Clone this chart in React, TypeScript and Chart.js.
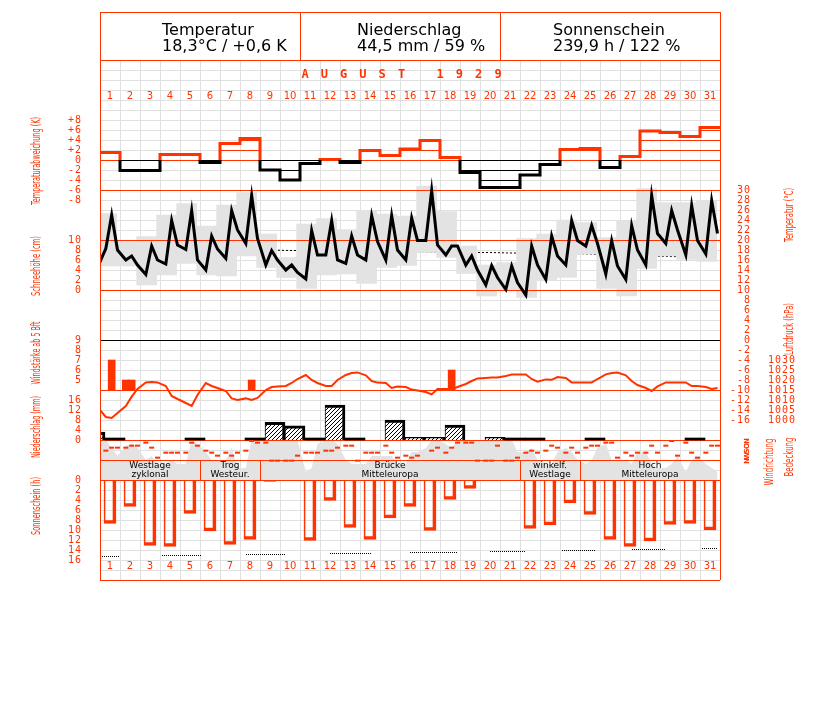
import React, { useEffect, useRef } from 'react';
import { Chart, registerables } from 'chart.js';

Chart.register(...registerables);

// ---------------- data ----------------
const DAYS = [1, 2, 3, 4, 5, 6, 7, 8, 9, 10, 11, 12, 13, 14, 15, 16, 17, 18, 19, 20, 21, 22, 23, 24, 25, 26, 27, 28, 29, 30, 31];
const OBS_HOURS = [7, 14, 21];

const SUMMARY_TITLES = ['Temperatur', 'Niederschlag', 'Sonnenschein'];
const SUMMARY_VALUES = ['18,3°C / +0,6 K', '44,5 mm / 59 %', '239,9 h / 122 %'];
const MONTH_TITLE = 'AUGUST 1929';

// daily temperature anomaly (K)
const TEMP_ANOMALY = [1.5, -2.1, -2.1, 1.1, 1.1, -0.5, 3.3, 4.3, -2.0, -4.0, -0.7, 0.1, -0.5, 1.9, 0.9, 2.2, 3.9, 0.5, -2.5, -5.5, -5.5, -3.0, -0.9, 2.1, 2.3, -1.5, 0.7, 5.8, 5.5, 4.7, 6.5];

// temperature readings (°C) at 7h, 14h, 21h
const TEMP_PREV_21H = 14.5;
const TEMP_7H = [18.3, 16.0, 13.1, 15.2, 18.1, 14.0, 16.3, 19.3, 15.0, 14.0, 12.2, 17.0, 15.3, 16.0, 16.0, 16.0, 19.9, 17.0, 15.0, 11.0, 10.1, 9.0, 12.1, 15.0, 18.8, 13.2, 12.1, 15.0, 19.3, 17.0, 17.2];
const TEMP_14H = [25.0, 16.8, 18.8, 23.9, 25.9, 20.8, 25.9, 28.9, 17.9, 15.0, 21.9, 23.9, 20.8, 24.9, 24.9, 24.4, 29.9, 18.8, 16.8, 14.9, 14.8, 18.8, 20.8, 23.9, 22.9, 19.9, 22.9, 28.9, 25.9, 26.9, 27.9];
const TEMP_21H = [18.0, 15.0, 16.0, 19.0, 16.0, 18.2, 22.0, 20.3, 16.0, 13.5, 17.0, 16.0, 17.0, 19.7, 18.0, 19.9, 19.0, 18.8, 14.0, 12.5, 11.5, 15.0, 16.8, 19.9, 19.3, 14.8, 18.0, 21.3, 22.0, 19.9, 21.3];
// daily extremes (°C)
const TEMP_MAX = [25.3, 19.7, 20.7, 25.0, 27.3, 22.8, 27.0, 29.5, 21.2, 16.5, 23.2, 24.3, 22.1, 25.9, 25.2, 24.8, 30.8, 25.7, 18.8, 15.0, 15.5, 20.3, 21.2, 24.0, 23.5, 20.5, 23.9, 30.3, 27.5, 27.5, 27.9];
const TEMP_MIN = [14.8, 14.8, 11.0, 13.0, 15.3, 13.0, 12.8, 16.8, 14.5, 12.5, 10.3, 13.0, 13.2, 11.3, 14.5, 14.9, 17.5, 16.5, 13.3, 8.8, 10.0, 8.5, 12.0, 12.5, 17.2, 10.3, 8.8, 14.3, 16.8, 16.1, 15.7];
// long-term mean temperature (°C)
const TEMP_NORMAL = [18.2, 18.2, 18.2, 18.1, 18.1, 18.1, 18.0, 18.0, 18.0, 17.9, 17.9, 17.9, 17.8, 17.8, 17.8, 17.7, 17.6, 17.5, 17.5, 17.5, 17.4, 17.4, 17.4, 17.3, 17.2, 17.0, 16.9, 16.8, 16.7, 16.6, 16.5];

// wind force >= 5 Bft
const WIND_DAY = [1, 2, 2, 8, 18];
const WIND_HOUR = [14, 7, 14, 14, 14];
const WIND_BFT = [7, 5, 5, 5, 6];

// air pressure (hPa)
const PRESS_PREV_21H = 1006.5;
const PRESS_7H = [1001.5, 1007, 1018.8, 1017, 1008.5, 1018.5, 1014.5, 1010.8, 1015, 1017, 1022.5, 1017, 1022.5, 1022.3, 1018.5, 1016.5, 1014, 1015.5, 1018, 1021, 1022, 1022.8, 1020.3, 1021, 1018.8, 1022.8, 1022.3, 1016, 1018.8, 1018.8, 1016.5];
const PRESS_14H = [1001, 1011.7, 1019, 1012, 1007, 1017, 1010.8, 1010, 1016.5, 1018.5, 1020, 1017, 1023.5, 1019.5, 1016, 1015.2, 1012.8, 1015.5, 1019.5, 1021.2, 1022.7, 1020.5, 1020.1, 1018.8, 1018.8, 1023.5, 1019.5, 1014.5, 1018.8, 1017, 1015.5];
const PRESS_21H = [1003.5, 1015.5, 1018.8, 1010.5, 1012.5, 1016, 1010, 1011, 1016.8, 1020.5, 1018.5, 1020, 1023.8, 1018.7, 1016.7, 1014.8, 1015.5, 1016.5, 1020.8, 1021.2, 1022.8, 1019.2, 1021.5, 1018.8, 1020.5, 1023.7, 1017.5, 1016.8, 1018.8, 1017, 1016];

// precipitation (mm), measuring day 7h -> 7h
const PRECIP_DAY = [0, 9, 10, 12, 15, 16, 17, 18, 20];
const PRECIP_MM = [3.2, 7.1, 5.7, 14.0, 8.0, 1.1, 1.1, 6.0, 1.1];
const TRACE_DAY = [1, 5, 8, 11, 13, 21, 22, 25, 30];
const TRACE_MM = [0.1, 0.1, 0.1, 0.1, 0.1, 0.1, 0.1, 0.1, 0.1];

// wind direction (degrees) at 7h, 14h, 21h
const WDIR_7H = [174, 120, 30, 210, 210, 174, 210, 174, 30, 354, 210, 174, 84, 210, 84, 264, null, 210, 30, 354, 354, 210, 174, 210, 120, 30, 210, 210, 84, 30, 210];
const WDIR_14H = [120, 84, 120, 210, 30, 210, 264, 0, 354, 354, 210, 174, 84, 210, 210, 300, 174, 120, 30, 354, 354, 174, 84, 120, 84, 30, 264, 84, 0, 210, 84];
const WDIR_21H = [120, 84, 300, 210, 84, 264, 210, 30, 354, 264, 210, 120, 354, 210, 300, 264, 120, 30, 354, 84, 300, 210, 120, 210, 84, 300, 210, 210, 264, 300, 84];

// cloud cover (tenths) at 7h, 14h, 21h
const CLOUD_PREV_21H = 10;
const CLOUD_7H = [10, 8.5, 5, 4, 4, 7, 5, 3, 10, 10, 2, 10, 5, 4, 6, 4, 8, 9, 10, 10, 10, 7, 4, 8, 4, 9, 5, 7, 3, 2, 4];
const CLOUD_14H = [8, 9, 6, 5, 10, 5, 8, 10, 10, 10, 3, 10, 4, 6, 6, 7, 10, 8, 10, 10, 10, 8, 4, 7, 5, 5, 4, 4, 4, 5, 3];
const CLOUD_21H = [6, 8, 4, 4, 9, 5, 3, 10, 10, 10, 9, 9, 4, 6, 4, 7, 10, 10, 10, 10, 7, 5, 7, 5, 8, 5, 7, 3, 6, 6, 2];

// sunshine duration (h)
const SUN_H = [8.7, 5.3, 13.1, 13.3, 6.7, 10.2, 12.9, 11.9, 0.3, 0, 12.1, 4.1, 9.5, 11.9, 7.6, 5.3, 10.1, 3.9, 1.7, 0, 0, 9.7, 9.0, 4.6, 6.9, 11.9, 13.3, 12.2, 8.9, 8.7, 10.0];
// possible sunshine (h), dotted marks
const SUNPOSS_FROM = [0, 3.1, 7.3, 11.5, 15.5, 19.5, 23.1, 26.6, 30.1];
const SUNPOSS_TO = [1.0, 5.1, 9.3, 13.6, 17.9, 21.3, 24.8, 28.3, 30.9];
const SUNPOSS_H = [15.3, 15.1, 14.9, 14.7, 14.5, 14.3, 14.1, 13.9, 13.7];

// weather types
const WX_FROM = [1, 6, 9, 22, 25];
const WX_TO = [5, 8, 21, 24, 31];
const WX_LINE1 = ['Westlage', 'Trog', 'Brücke', 'winkelf.', 'Hoch'];
const WX_LINE2 = ['zyklonal', 'Westeur.', 'Mitteleuropa', 'Westlage', 'Mitteleuropa'];

// tick labels
const ANOM_TICKS = [8, 6, 4, 2, 0, -2, -4, -6, -8];
const SNOW_TICKS = [10, 8, 6, 4, 2, 0];
const WIND_TICKS = [9, 8, 7, 6, 5];
const PRECIP_TICKS = [16, 12, 8, 4, 0];
const SUN_TICKS = [0, 2, 4, 6, 8, 10, 12, 14, 16];
const TEMP_TICKS = [30, 28, 26, 24, 22, 20, 18, 16, 14, 12, 10, 8, 6, 4, 2, 0, -2, -4, -6, -8, -10, -12, -14, -16];
const PRESS_TICKS = [1030, 1025, 1020, 1015, 1010, 1005, 1000];
const WDIR_TICKS = [0, 90, 180, 270, 360];
const WDIR_LABELS = ['N', 'O', 'S', 'W', 'N'];

// ---------------- layout / style ----------------
const CANVAS_W = 827;
const CANVAS_H = 702;
const AREA = { left: 100, right: 720, top: 60, bottom: 580 };
const RED = '#ff3300';
const GRID = '#e0e0e0';
const SHADE = '#e3e3e3';
const RED_ROWS = [0, 10, 13, 18, 23, 33, 38, 40, 42, 52];
const BLACK_ROWS = [28];

function upScale(v0: number, px: number, k: number) {
  return { min: v0 - (AREA.bottom - px) / k, max: v0 + (px - AREA.top) / k };
}
function downScale(v0: number, px: number, k: number) {
  return { min: v0 - (px - AREA.top) / k, max: v0 + (AREA.bottom - px) / k, reverse: true };
}
const obsX = (day: number, hour: number) => day - 1 + hour / 24;

function byObs(a7: (number | null)[], a14: (number | null)[], a21: (number | null)[]) {
  const pts: { x: number; y: number | null }[] = [];
  DAYS.forEach((d, i) => {
    [a7[i], a14[i], a21[i]].forEach((v, j) => pts.push({ x: obsX(d, OBS_HOURS[j]), y: v }));
  });
  return pts;
}
function steps(vals: number[]) {
  const pts: { x: number; y: number }[] = [];
  DAYS.forEach((d, i) => {
    pts.push({ x: d - 1, y: vals[i] });
    pts.push({ x: d, y: vals[i] });
  });
  return pts;
}

function vText(ctx: CanvasRenderingContext2D, s: string, cx: number, cy: number, len: number, font: string, color: string) {
  ctx.save();
  ctx.translate(cx, cy);
  ctx.rotate(-Math.PI / 2);
  ctx.font = font;
  const w = ctx.measureText(s).width;
  ctx.scale(len / w, 1);
  ctx.fillStyle = color;
  ctx.textAlign = 'center';
  ctx.textBaseline = 'middle';
  ctx.fillText(s, 0, 0);
  ctx.restore();
}

const overlayPlugin = {
  id: 'overlay',
  afterDatasetDraw(chart: any, args: any) {
    if (chart.data.datasets[args.index].label !== 'Tagesspanne') return;
    const { ctx, chartArea: a } = chart;
    const rows = chart.scales.rows;
    ctx.save();
    ctx.lineWidth = 1;
    const hline = (r: number, c: string) => {
      const y = Math.round(rows.getPixelForValue(r)) + 0.5;
      ctx.strokeStyle = c;
      ctx.beginPath();
      ctx.moveTo(a.left, y);
      ctx.lineTo(a.right, y);
      ctx.stroke();
    };
    RED_ROWS.forEach((r) => hline(r, RED));
    BLACK_ROWS.forEach((r) => hline(r, '#000'));
    ctx.restore();
  },
  afterDraw(chart: any) {
    const { ctx, chartArea: a } = chart;
    const sx = chart.scales.x;
    const rows = chart.scales.rows;
    const S = chart.scales;
    ctx.save();
    (ctx as any).letterSpacing = '0px';

    // header box
    ctx.strokeStyle = RED;
    ctx.lineWidth = 1;
    ctx.strokeRect(a.left + 0.5, 12.5, a.right - a.left, 48);
    [10, 20].forEach((d) => {
      const x = Math.round(sx.getPixelForValue(d)) + 0.5;
      ctx.beginPath();
      ctx.moveTo(x, 12);
      ctx.lineTo(x, 60);
      ctx.stroke();
    });
    const headX = [162, 357, 553];
    ctx.fillStyle = '#000';
    ctx.font = '16px "DejaVu Sans"';
    ctx.textAlign = 'left';
    ctx.textBaseline = 'middle';
    SUMMARY_TITLES.forEach((t, i) => {
      ctx.fillText(t, headX[i], 31);
      ctx.fillText(SUMMARY_VALUES[i], headX[i], 47);
    });

    // month title
    ctx.fillStyle = RED;
    ctx.font = 'bold 12px "DejaVu Sans Mono"';
    ctx.textAlign = 'center';
    const ty = rows.getPixelForValue(1.5);
    let cx = 305;
    for (const ch of MONTH_TITLE) {
      if (ch !== ' ') ctx.fillText(ch, cx, ty);
      cx += 19.3;
    }

    // day numbers
    ctx.font = '10px "DejaVu Sans"';
    DAYS.forEach((d) => {
      const x = sx.getPixelForValue(d - 0.5);
      ctx.fillText(String(d), x, rows.getPixelForValue(3.6));
      ctx.fillText(String(d), x, rows.getPixelForValue(50.6));
    });

    // left ticks
    ctx.font = '10px "DejaVu Sans Mono"';
    (ctx as any).letterSpacing = '1px';
    ctx.textAlign = 'right';
    const lx = 82;
    ANOM_TICKS.forEach((v) => ctx.fillText((v > 0 ? '+' : '') + v, lx, S.anom.getPixelForValue(v)));
    SNOW_TICKS.forEach((v) => ctx.fillText(String(v), lx, S.snow.getPixelForValue(v)));
    WIND_TICKS.forEach((v) => ctx.fillText(String(v), lx, S.wind.getPixelForValue(v)));
    PRECIP_TICKS.forEach((v) => ctx.fillText(String(v), lx, S.precip.getPixelForValue(v)));
    SUN_TICKS.forEach((v) => ctx.fillText(String(v), lx, S.sun.getPixelForValue(v)));

    // right ticks
    TEMP_TICKS.forEach((v) => ctx.fillText(String(v), 751, S.temp.getPixelForValue(v)));
    PRESS_TICKS.forEach((v) => ctx.fillText(String(v), 796, S.press.getPixelForValue(v)));
    (ctx as any).letterSpacing = '0px';

    // wind direction letters
    WDIR_TICKS.forEach((v, i) => {
      ctx.save();
      ctx.translate(747, S.wdir.getPixelForValue(v));
      ctx.rotate(-Math.PI / 2);
      ctx.font = 'bold 7px "DejaVu Sans"';
      ctx.textAlign = 'center';
      ctx.textBaseline = 'middle';
      ctx.fillStyle = RED;
      ctx.fillText(WDIR_LABELS[i], 0, 0);
      ctx.restore();
    });

    // axis titles
    const tf = '13px "DejaVu Sans"';
    vText(ctx, 'Temperaturabweichung (K)', 37, 161, 88, tf, RED);
    vText(ctx, 'Schneehöhe (cm)', 37, 266, 60, tf, RED);
    vText(ctx, 'Windstärke ab 5 Bft', 37, 353, 63, tf, RED);
    vText(ctx, 'Niederschlag (mm)', 37, 427, 62, tf, RED);
    vText(ctx, 'Sonnenschein (h)', 37, 506, 58, tf, RED);
    vText(ctx, 'Temperatur (°C)', 790, 215, 54, tf, RED);
    vText(ctx, 'Luftdruck (hPa)', 790, 329, 52, tf, RED);
    vText(ctx, 'Windrichtung', 770, 462, 47, tf, RED);
    vText(ctx, 'Bedeckung', 790, 457, 39, tf, RED);

    // weather type band
    const bTop = rows.getPixelForValue(40);
    const bBot = rows.getPixelForValue(42);
    ctx.strokeStyle = RED;
    ctx.lineWidth = 1;
    WX_FROM.forEach((f, i) => {
      if (i > 0) {
        const x = Math.round(sx.getPixelForValue(f - 1)) + 0.5;
        ctx.beginPath();
        ctx.moveTo(x, bTop);
        ctx.lineTo(x, bBot);
        ctx.stroke();
      }
      const mx = (sx.getPixelForValue(f - 1) + sx.getPixelForValue(WX_TO[i])) / 2;
      ctx.fillStyle = '#000';
      ctx.font = '9px "DejaVu Sans"';
      ctx.textAlign = 'center';
      ctx.textBaseline = 'middle';
      ctx.fillText(WX_LINE1[i], mx, bTop + 6);
      ctx.fillText(WX_LINE2[i], mx, bTop + 15);
    });

    // frame sides
    ctx.strokeStyle = RED;
    [a.left, a.right].forEach((x) => {
      ctx.beginPath();
      ctx.moveTo(Math.round(x) + 0.5, a.top);
      ctx.lineTo(Math.round(x) + 0.5, a.bottom);
      ctx.stroke();
    });
    ctx.restore();
  },
};

export default function App() {
  const ref = useRef<HTMLCanvasElement>(null);

  useEffect(() => {
    const canvas = ref.current!;
    const ctx = canvas.getContext('2d')!;

    const linePattern = (color: string) => {
      const c = document.createElement('canvas');
      c.width = 10;
      c.height = 10;
      const g = c.getContext('2d')!;
      g.fillStyle = color;
      g.fillRect(0, 0, 10, 1);
      return ctx.createPattern(c, 'repeat')!;
    };
    const hatch = (() => {
      const c = document.createElement('canvas');
      c.width = 4;
      c.height = 4;
      const g = c.getContext('2d')!;
      g.fillStyle = '#fff';
      g.fillRect(0, 0, 4, 4);
      g.fillStyle = '#000';
      for (let i = 0; i < 4; i++) g.fillRect(i, 3 - i, 1, 1);
      return ctx.createPattern(c, 'repeat')!;
    })();

    const zeroSeg = (c: any) => (c.p0.parsed.y === 0 && c.p1.parsed.y === 0 ? 'rgba(0,0,0,0)' : undefined);

    const sunPoss: { x: number; y: number | null }[] = [];
    SUNPOSS_H.forEach((h, i) => {
      sunPoss.push({ x: SUNPOSS_FROM[i], y: h });
      sunPoss.push({ x: SUNPOSS_TO[i], y: h });
      sunPoss.push({ x: SUNPOSS_TO[i], y: null });
    });

    const datasets: any[] = [
      {
        type: 'line', label: 'Bedeckung', yAxisID: 'cloud', order: 100,
        data: [{ x: obsX(0, 21), y: CLOUD_PREV_21H }, ...byObs(CLOUD_7H, CLOUD_14H, CLOUD_21H)],
        borderWidth: 0, pointRadius: 0, fill: 'origin', backgroundColor: SHADE, clip: 0,
      },
      {
        type: 'line', label: 'Normal', yAxisID: 'temp', order: 90,
        data: DAYS.map((d, i) => ({ x: d - 0.5, y: TEMP_NORMAL[i] })),
        borderColor: '#000', borderWidth: 1, borderDash: [2, 2], pointRadius: 0, fill: false,
      },
      {
        type: 'bar', label: 'Tagesspanne', yAxisID: 'temp', order: 80,
        data: DAYS.map((d, i) => ({ x: d - 0.5 - 1 / 6, y: [TEMP_MIN[i], TEMP_MAX[i]] })),
        backgroundColor: SHADE, borderWidth: 0, grouped: false, barThickness: 20,
      },
      {
        type: 'line', label: 'Temperatur', yAxisID: 'temp', order: 70,
        data: [{ x: obsX(0, 21), y: TEMP_PREV_21H }, ...byObs(TEMP_7H, TEMP_14H, TEMP_21H)],
        borderColor: '#000', borderWidth: 3, pointRadius: 0, fill: false, clip: 0,
      },
      {
        type: 'line', label: 'Abweichung +', yAxisID: 'anom', order: 61,
        data: steps(TEMP_ANOMALY.map((v) => Math.max(v, 0))),
        borderColor: RED, borderWidth: 3, pointRadius: 0, fill: 'origin', backgroundColor: linePattern(RED),
        segment: { borderColor: zeroSeg },
      },
      {
        type: 'line', label: 'Abweichung -', yAxisID: 'anom', order: 60,
        data: steps(TEMP_ANOMALY.map((v) => Math.min(v, 0))),
        borderColor: '#000', borderWidth: 3, pointRadius: 0, fill: 'origin', backgroundColor: linePattern('#000'),
        segment: { borderColor: zeroSeg },
      },
      {
        type: 'bar', label: 'Wind', yAxisID: 'wind', order: 50,
        data: WIND_BFT.map((b, i) => ({ x: obsX(WIND_DAY[i], WIND_HOUR[i]), y: [4, b] })),
        backgroundColor: RED, borderWidth: 0, grouped: false, barThickness: 7,
      },
      {
        type: 'line', label: 'Luftdruck', yAxisID: 'press', order: 45,
        data: [{ x: obsX(0, 21), y: PRESS_PREV_21H }, ...byObs(PRESS_7H, PRESS_14H, PRESS_21H)],
        borderColor: RED, borderWidth: 2, pointRadius: 0, fill: false, clip: 0,
      },
      {
        type: 'bar', label: 'Niederschlag', yAxisID: 'precip', order: 40,
        data: PRECIP_MM.map((m, i) => ({ x: PRECIP_DAY[i] - 0.25, y: m })),
        backgroundColor: hatch, borderColor: '#000', borderSkipped: false,
        borderWidth: { left: 1, top: 3, right: 3, bottom: 0 }, grouped: false, barThickness: 20,
      },
      {
        type: 'bar', label: 'Spuren', yAxisID: 'precip', order: 39,
        data: TRACE_MM.map((m, i) => ({ x: TRACE_DAY[i] - 0.25, y: m })),
        backgroundColor: '#000', borderWidth: 0, minBarLength: 2, grouped: false, barThickness: 20,
      },
      {
        type: 'line', label: 'Windrichtung', yAxisID: 'wdir', order: 30,
        data: byObs(WDIR_7H, WDIR_14H, WDIR_21H),
        showLine: false, pointStyle: 'line', pointRadius: 2.5, pointBorderWidth: 2,
        pointBorderColor: RED, pointBackgroundColor: RED,
      },
      {
        type: 'bar', label: 'Sonnenschein', yAxisID: 'sun', order: 20,
        data: DAYS.map((d, i) => ({ x: d - 0.5, y: SUN_H[i] })),
        backgroundColor: 'rgba(255,255,255,0)', borderColor: RED, borderSkipped: false,
        borderWidth: { left: 1, top: 0, right: 3, bottom: 3 }, grouped: false, barThickness: 12,
      },
      {
        type: 'line', label: 'mögl. Sonnenschein', yAxisID: 'sun', order: 19,
        data: sunPoss, borderColor: '#000', borderWidth: 1, borderDash: [1, 1], pointRadius: 0,
        fill: false, spanGaps: false, clip: 0,
      },
    ];

    const hidden = (r: any) => ({ type: 'linear', axis: 'y', position: 'left', display: false, ...r });

    const chart = new Chart(canvas, {
      type: 'line',
      data: { datasets },
      plugins: [overlayPlugin],
      options: {
        animation: false,
        responsive: false,
        devicePixelRatio: 1,
        events: [],
        layout: {
          padding: { left: AREA.left, top: AREA.top, right: CANVAS_W - AREA.right, bottom: CANVAS_H - AREA.bottom },
        },
        plugins: { legend: { display: false }, tooltip: { enabled: false } },
        scales: {
          x: {
            type: 'linear', axis: 'x', position: 'bottom', min: 0, max: 31, offset: false,
            ticks: { display: false, stepSize: 1, maxTicksLimit: 100 },
            grid: {
              offset: false, drawTicks: false, lineWidth: 1,
              color: (c: any) => (c.tick && (c.tick.value === 0 || c.tick.value === 31) ? RED : GRID),
            },
            border: { display: false },
          },
          rows: {
            type: 'linear', axis: 'y', position: 'left', ...downScale(0, AREA.top, 10),
            ticks: { display: false, stepSize: 1, maxTicksLimit: 100 },
            grid: {
              drawTicks: false, lineWidth: 1,
              color: (c: any) => {
                const v = c.tick ? c.tick.value : -1;
                if (RED_ROWS.includes(v)) return RED;
                if (BLACK_ROWS.includes(v)) return '#000';
                return GRID;
              },
            },
            border: { display: false },
          },
          anom: hidden(upScale(0, 160, 5)),
          temp: hidden(upScale(30, 190, 5)),
          snow: hidden(upScale(0, 290, 5)),
          wind: hidden(upScale(9, 340, 10)),
          press: hidden(upScale(1030, 360, 2)),
          precip: hidden(upScale(0, 440, 2.5)),
          wdir: hidden(downScale(0, 441, 20 / 360)),
          cloud: hidden(upScale(0, 480, 4)),
          sun: hidden(downScale(0, 480, 5)),
        } as any,
      },
    } as any);

    return () => chart.destroy();
  }, []);

  return (
    <canvas
      ref={ref}
      width={CANVAS_W}
      height={CANVAS_H}
      style={{ position: 'absolute', left: 0, top: 0, width: CANVAS_W, height: CANVAS_H }}
    />
  );
}
